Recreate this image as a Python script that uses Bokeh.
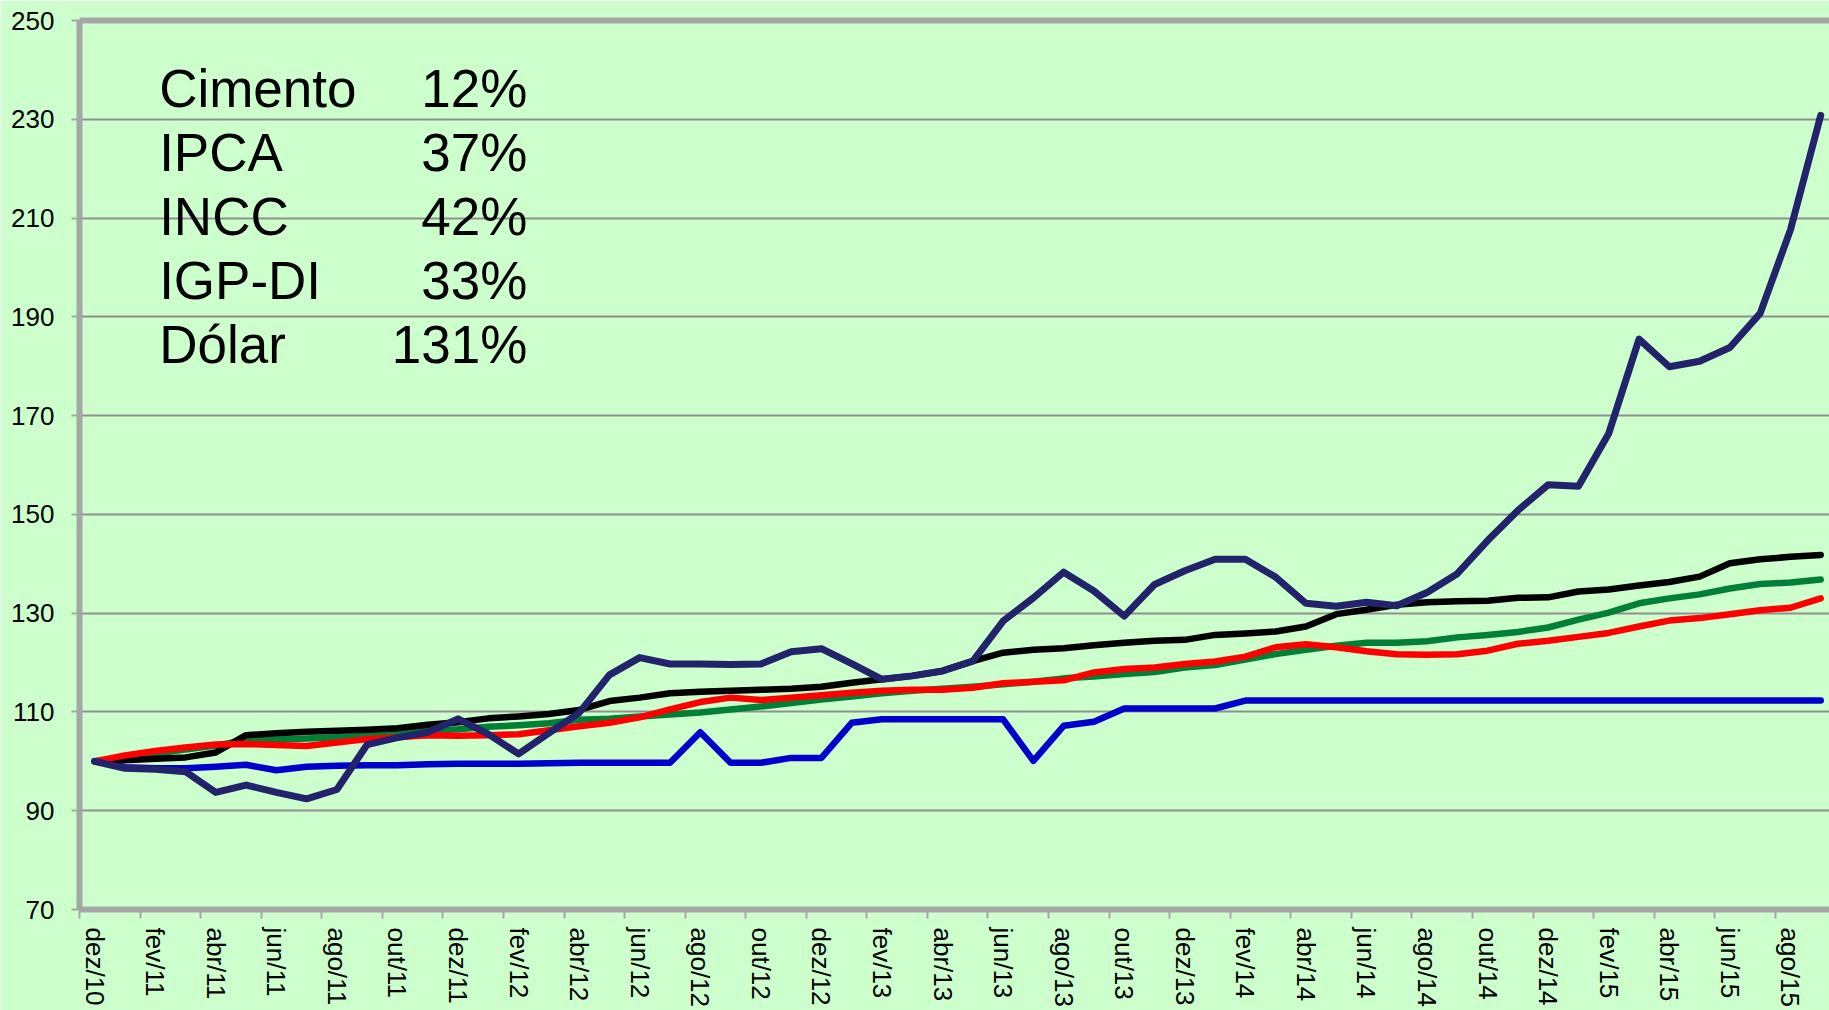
from bokeh.plotting import figure
from bokeh.models import ColumnDataSource, FixedTicker, LinearAxis, Range1d
from bokeh.core.properties import value
from bokeh.embed import file_html
from bokeh.resources import INLINE

# ---------------- data ----------------
months = ["dez/10",
          "jan/11", "fev/11", "mar/11", "abr/11", "mai/11", "jun/11", "jul/11", "ago/11", "set/11", "out/11", "nov/11", "dez/11",
          "jan/12", "fev/12", "mar/12", "abr/12", "mai/12", "jun/12", "jul/12", "ago/12", "set/12", "out/12", "nov/12", "dez/12",
          "jan/13", "fev/13", "mar/13", "abr/13", "mai/13", "jun/13", "jul/13", "ago/13", "set/13", "out/13", "nov/13", "dez/13",
          "jan/14", "fev/14", "mar/14", "abr/14", "mai/14", "jun/14", "jul/14", "ago/14", "set/14", "out/14", "nov/14", "dez/14",
          "jan/15", "fev/15", "mar/15", "abr/15", "mai/15", "jun/15", "jul/15", "ago/15", "set/15"]

cimento = [100.0, 98.8, 98.6, 98.6, 98.9, 99.3, 98.2, 98.9, 99.1, 99.2, 99.2, 99.4, 99.5,
           99.5, 99.5, 99.6, 99.7, 99.7, 99.7, 99.7, 105.9, 99.7, 99.7, 100.7, 100.7,
           107.8, 108.5, 108.5, 108.5, 108.5, 108.5, 100.1, 107.2, 108.0, 110.7, 110.7, 110.7,
           110.7, 112.3, 112.3, 112.3, 112.3, 112.3, 112.3, 112.3, 112.3, 112.3, 112.3, 112.3,
           112.3, 112.3, 112.3, 112.3, 112.3, 112.3, 112.3, 112.3, 112.3]

ipca = [100.0, 100.8, 101.6, 102.4, 103.2, 104.3, 104.4, 104.6, 104.9, 105.2, 105.7, 106.2, 106.5,
        107.0, 107.3, 107.7, 108.4, 108.6, 109.1, 109.5, 109.9, 110.5, 111.1, 111.8, 112.5,
        113.1, 113.8, 114.3, 114.7, 115.1, 115.6, 116.1, 116.8, 117.2, 117.7, 118.1, 119.0,
        119.5, 120.6, 121.7, 122.6, 123.4, 124.0, 124.0, 124.3, 125.1, 125.6, 126.2, 127.1,
        128.7, 130.1, 132.0, 133.0, 133.8, 135.0, 135.9, 136.2, 136.8]

incc = [100.0, 100.2, 100.5, 100.8, 101.8, 105.3, 105.7, 106.0, 106.2, 106.4, 106.7, 107.4, 107.9,
        108.7, 109.1, 109.6, 110.4, 112.2, 112.9, 113.8, 114.1, 114.3, 114.5, 114.7, 115.1,
        115.9, 116.6, 117.3, 118.3, 120.3, 122.0, 122.6, 122.9, 123.5, 124.0, 124.4, 124.6,
        125.6, 125.9, 126.3, 127.3, 129.8, 130.7, 131.7, 132.2, 132.4, 132.5, 133.1, 133.2,
        134.4, 134.8, 135.6, 136.3, 137.4, 140.1, 140.9, 141.4, 141.8]

igpdi = [100.0, 101.2, 102.1, 102.8, 103.4, 103.5, 103.3, 103.1, 103.8, 104.5, 104.9, 105.3, 105.2,
         105.3, 105.5, 106.3, 107.1, 107.8, 108.9, 110.5, 112.0, 112.9, 112.4, 112.9, 113.4,
         113.9, 114.3, 114.5, 114.5, 114.9, 115.8, 116.1, 116.4, 118.0, 118.7, 119.0, 119.7,
         120.2, 121.2, 123.1, 123.7, 123.1, 122.3, 121.7, 121.6, 121.7, 122.4, 123.8, 124.4,
         125.2, 126.0, 127.3, 128.5, 129.0, 129.8, 130.6, 131.1, 133.0]

dolar = [100.0, 98.6, 98.4, 97.9, 93.7, 95.2, 93.7, 92.4, 94.3, 103.4, 104.8, 105.9, 108.6,
         105.5, 101.5, 105.7, 109.8, 117.5, 121.0, 119.7, 119.7, 119.6, 119.7, 122.2, 122.8,
         119.8, 116.6, 117.3, 118.3, 120.3, 128.4, 133.1, 138.3, 134.5, 129.4, 135.8, 138.6,
         140.9, 140.9, 137.3, 132.0, 131.4, 132.2, 131.5, 134.2, 138.0, 144.7, 150.8, 156.0,
         155.7, 166.4, 185.5, 179.9, 181.0, 183.8, 190.7, 207.6, 230.8]

names = ["Cimento", "IPCA", "INCC", "IGP-DI", "Dólar"]
changes = ["12%", "37%", "42%", "33%", "131%"]
y_ticks = [70, 90, 110, 130, 150, 170, 190, 210, 230, 250]

# ---------------- figure ----------------
BG = "#CCFFCC"
AXIS_GRAY = "#A6A6A6"
GRID_GRAY = "#8F8F8F"
FONT = "Liberation Sans"

n = len(months)
p = figure(width=1829, height=1010,
           x_range=Range1d(-0.5, 57.29), y_range=Range1d(70, 250),
           output_backend="svg", toolbar_location=None,
           min_border_left=79, min_border_right=0,
           min_border_top=20, min_border_bottom=100)
p.background_fill_color = BG
p.border_fill_color = BG
p.outline_line_color = None

# x axis: tick marks at month boundaries (every 2 months), labels at the months
xa = p.xaxis[0]
label_idx = list(range(0, n, 2))
xa.ticker = FixedTicker(ticks=label_idx, minor_ticks=[i - 0.5 for i in label_idx])
xa.major_label_overrides = {i: months[i] for i in label_idx}
xa.major_label_orientation = "vertical"
xa.major_label_text_font = FONT
xa.major_label_text_font_size = "26px"
xa.major_label_text_color = "black"
xa.major_label_standoff = 9
xa.major_tick_line_color = None
xa.major_tick_out = 9
xa.major_tick_in = 0
xa.minor_tick_line_color = AXIS_GRAY
xa.minor_tick_line_width = 2
xa.minor_tick_out = 9
xa.minor_tick_in = 0
xa.axis_line_color = AXIS_GRAY
xa.axis_line_width = 6

ya = p.yaxis[0]
ya.ticker = FixedTicker(ticks=y_ticks)
ya.major_label_text_font = FONT
ya.major_label_text_font_size = "26px"
ya.major_label_text_color = "black"
ya.major_label_standoff = 17
ya.major_tick_line_color = AXIS_GRAY
ya.major_tick_line_width = 2
ya.major_tick_out = 8
ya.major_tick_in = 0
ya.minor_tick_line_color = None
ya.axis_line_color = AXIS_GRAY
ya.axis_line_width = 6

top = LinearAxis(ticker=FixedTicker(ticks=[]), axis_line_color=AXIS_GRAY, axis_line_width=6,
                 major_tick_line_color=None, minor_tick_line_color=None,
                 major_label_text_font_size="0px", major_label_standoff=0,
                 major_tick_out=0, minor_tick_out=0)
p.add_layout(top, "above")

p.xgrid.visible = False
p.ygrid.ticker = FixedTicker(ticks=y_ticks)
p.ygrid.grid_line_color = GRID_GRAY
p.ygrid.grid_line_width = 2

x = list(range(n))
series = [
    (cimento, "#0000CC", 6.5),
    (ipca, "#008037", 6.5),
    (incc, "#000000", 6.5),
    (igpdi, "#FF0000", 6.5),
    (dolar, "#23236B", 7),
]
for ys, color, w in series:
    p.line(x, ys, line_color=color, line_width=w, line_join="round", line_cap="round")

# text block
base_y = 236.2
step = 12.95
ys_txt = [base_y - k * step for k in range(len(names))]
src_names = ColumnDataSource(dict(x=[2.13] * len(names), y=ys_txt, t=names))
src_pct = ColumnDataSource(dict(x=[14.29] * len(changes), y=ys_txt, t=changes))
p.text(x="x", y="y", text="t", source=src_names, text_font=value(FONT),
       text_font_size=value("53px"), text_color="black",
       text_align="left", text_baseline="alphabetic")
p.text(x="x", y="y", text="t", source=src_pct, text_font=value(FONT),
       text_font_size=value("53px"), text_color="black",
       text_align="right", text_baseline="alphabetic")

open("out.html", "w").write(file_html(p, INLINE))
